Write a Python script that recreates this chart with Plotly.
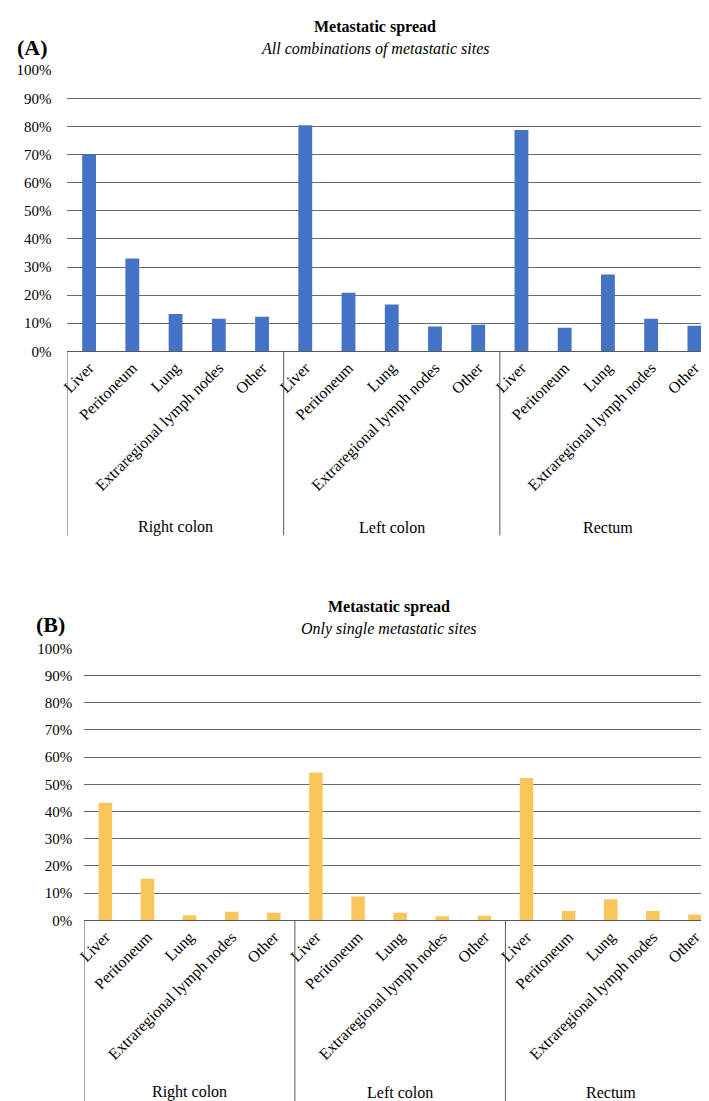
import plotly.graph_objects as go

# ---- data ----
sites = ["Liver", "Peritoneum", "Lung", "Extraregional lymph nodes", "Other"]
groups = ["Right colon", "Left colon", "Rectum"]

all_combinations = {
    "Right colon": [70.0, 33.0, 13.3, 11.6, 12.3],
    "Left colon": [80.4, 20.8, 16.7, 8.8, 9.5],
    "Rectum": [78.7, 8.4, 27.3, 11.6, 9.1],
}
single_sites = {
    "Right colon": [43.2, 15.3, 1.9, 3.2, 2.8],
    "Left colon": [54.4, 8.8, 2.8, 1.5, 1.7],
    "Rectum": [52.3, 3.4, 7.8, 3.4, 2.2],
}
y_ticks = [0, 10, 20, 30, 40, 50, 60, 70, 80, 90, 100]
y_tick_labels = [f"{v}%" for v in y_ticks]

W, H = 709, 1101
FONT = "Liberation Serif, Times New Roman, serif"
BLUE = "#4472C4"
GOLD = "#F8C65A"
GRID = "#6a6a6a"
LINE = "#595959"


def px(x):
    return x / W


def py(y):
    return 1 - y / H


labels = [s for g in groups for s in sites]
idx = list(range(len(labels)))
vals_a = [v for g in groups for v in all_combinations[g]]
vals_b = [v for g in groups for v in single_sites[g]]

fig = go.Figure()
fig.add_trace(go.Bar(x=idx, y=[v / 100 for v in vals_a], marker=dict(color=BLUE, line=dict(width=0)),
                     width=0.32, xaxis="x", yaxis="y", showlegend=False, hoverinfo="skip"))
fig.add_trace(go.Bar(x=idx, y=[v / 100 for v in vals_b], marker=dict(color=GOLD, line=dict(width=0)),
                     width=0.32, xaxis="x2", yaxis="y2", showlegend=False, hoverinfo="skip"))

panels = {
    "A": dict(x0=53, x1=708, y0=340.3, y1=55, box_bottom=527, glabel_y=519,
              title_x=364, title_y=11, sub_y=33, sub="All combinations of metastatic sites",
              tag_x=0, tag_y=32, standoff=15),
    "B": dict(x0=70, x1=708, y0=917.7, y1=641.7, box_bottom=1101, glabel_y=1092,
              title_x=378, title_y=600, sub_y=622, sub="Only single metastatic sites",
              tag_x=19, tag_y=617, standoff=11),
}

shapes = []
annotations = []
for i, (tag, p) in enumerate(panels.items()):
    sfx = "" if i == 0 else "2"
    xa = dict(domain=[px(p["x0"]), px(p["x1"])], range=[-0.5, len(labels) - 0.5],
              tickvals=idx, ticktext=labels, tickangle=-45,
              tickfont=dict(family=FONT, size=16, color="#000"),
              showgrid=False, zeroline=False, showline=True, linecolor=LINE, linewidth=1,
              ticks="", anchor="y" + sfx, fixedrange=True)
    ya = dict(domain=[py(p["y0"]), py(p["y1"])], range=[0, 1.0],
              tickvals=[v / 100 for v in y_ticks], ticktext=y_tick_labels,
              tickfont=dict(family=FONT, size=15, color="#000"),
              showgrid=True, gridcolor=GRID, gridwidth=1, zeroline=False, showline=False,
              ticks="", ticklabelstandoff=p["standoff"], anchor="x" + sfx, fixedrange=True)
    fig.layout["xaxis" + sfx] = xa
    fig.layout["yaxis" + sfx] = ya

    # group boxes
    for b in [-0.5, 4.5, 9.5, 14.5]:
        shapes.append(dict(type="line", xref="x" + sfx, yref="paper", x0=b, x1=b,
                           y0=py(p["box_bottom"]), y1=py(p["y0"]),
                           line=dict(color=LINE, width=1)))
    for gi, g in enumerate(groups):
        annotations.append(dict(text=g, xref="x" + sfx, yref="paper", x=gi * 5 + 2, y=py(p["glabel_y"]),
                                showarrow=False, xanchor="center", yanchor="middle",
                                font=dict(family=FONT, size=16, color="#000")))
    # titles
    annotations.append(dict(text="<b>Metastatic spread</b>", xref="paper", yref="paper",
                            x=px(p["title_x"]), y=py(p["title_y"]), showarrow=False,
                            xanchor="center", yanchor="middle",
                            font=dict(family=FONT, size=16, color="#000")))
    annotations.append(dict(text="<i>" + p["sub"] + "</i>", xref="paper", yref="paper",
                            x=px(p["title_x"]), y=py(p["sub_y"]), showarrow=False,
                            xanchor="center", yanchor="middle",
                            font=dict(family=FONT, size=16, color="#000")))
    annotations.append(dict(text="<b>(" + tag + ")</b>", xref="paper", yref="paper",
                            x=px(p["tag_x"]), y=py(p["tag_y"]), showarrow=False,
                            xanchor="left", yanchor="middle",
                            font=dict(family=FONT, size=22, color="#000")))

fig.update_layout(width=W, height=H, margin=dict(l=0, r=0, t=0, b=0),
                  paper_bgcolor="white", plot_bgcolor="white",
                  shapes=shapes, annotations=annotations, bargap=0.68,
                  showlegend=False)

fig.write_html("out.html", config={"displayModeBar": False})
